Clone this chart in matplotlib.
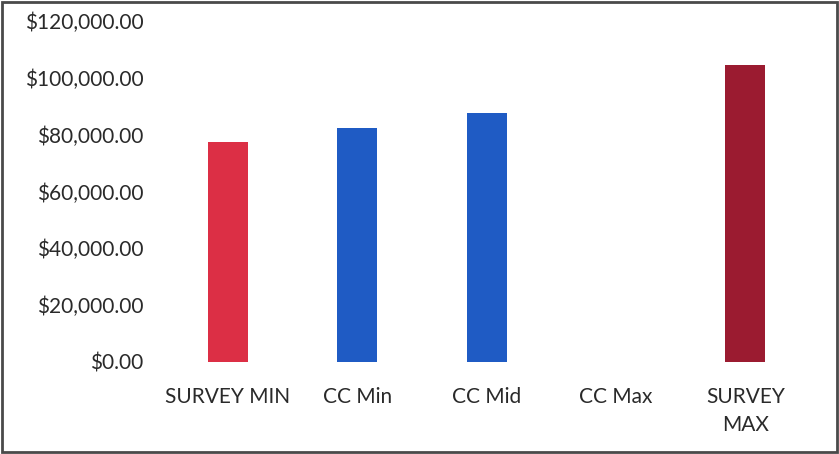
import matplotlib.pyplot as plt
from matplotlib.patches import Rectangle
from matplotlib.ticker import FuncFormatter

plt.rcParams['font.family'] = ['Lato', 'DejaVu Sans']

categories = ['SURVEY MIN', 'CC Min', 'CC Mid', 'CC Max', 'SURVEY\nMAX']
values = [77500, 82200, 87500, 0, 104500]
colors = ['#DC2F45', '#1F5BC4', '#1F5BC4', '#1F5BC4', '#9B1B30']

fig = plt.figure(figsize=(8.39, 4.54), dpi=100)
ax = fig.add_axes([163.3 / 839, 1 - 362 / 454, (810 - 163.3) / 839, (362 - 21) / 454])

x = list(range(len(categories)))
ax.bar(x, values, width=0.31, color=colors)

ax.set_xlim(-0.5, len(categories) - 0.5)
ax.set_ylim(0, 120000)
ax.set_yticks(range(0, 120001, 20000))
ax.yaxis.set_major_formatter(FuncFormatter(lambda v, p: '${:,.2f}'.format(v)))
ax.set_xticks(x)
ax.set_xticklabels(categories, linespacing=1.5)
ax.tick_params(axis='both', length=0, labelsize=15, colors='#2a2a2a')
ax.tick_params(axis='x', pad=18)
ax.tick_params(axis='y', pad=14.5)
for s in ax.spines.values():
    s.set_visible(False)

# outer frame
fig.patches.append(Rectangle((0.002, 0.004), 0.996, 0.992, transform=fig.transFigure,
                             fill=False, edgecolor='#4a4a4a', linewidth=2))

fig.savefig('out.png', dpi=100)
